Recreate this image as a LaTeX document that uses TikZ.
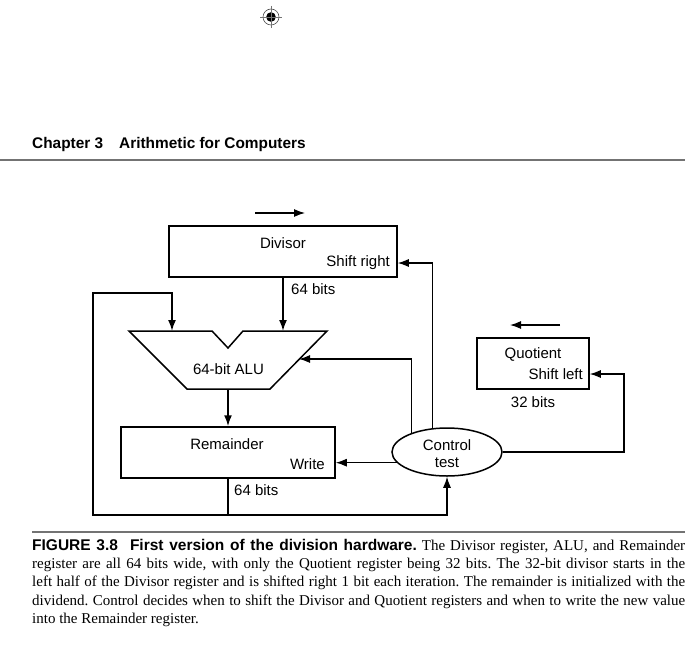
\documentclass[tikz,border=0pt]{standalone}
\usepackage{fontspec}
\setmainfont{Liberation Serif}
\setsansfont{Liberation Sans}
\usetikzlibrary{arrows.meta,shapes.geometric}
\begin{document}
\frenchspacing
\begin{tikzpicture}[x=1pt,y=-1pt,
  box/.style={draw, line width=1.5pt, inner sep=0pt},
  lbl/.style={font=\sffamily\fontsize{15}{18}\selectfont, inner sep=0pt},
  arr/.style={line width=1.7pt, -{Latex[length=11pt,width=8pt]}},
  carr/.style={line width=1.2pt, -{Latex[length=11pt,width=8pt]}},
  rule/.style={line width=1.4pt, black!55},
  head/.style={anchor=base west, inner sep=0pt, font=\sffamily\bfseries\fontsize{15.4}{18}\selectfont}
]
\useasboundingbox (0,0) rectangle (700,647);

% registration mark
\node[circle, draw=black!70, line width=0.6pt, minimum size=16pt, inner sep=0pt] (reg) at (271,17) {};
\fill (reg.center) circle (4.8pt);
\draw[line width=0.4pt, black!55] (260,17) -- (282,17) (271,6) -- (271,28);

% running head
\node[head] (chap) at (32,149) {Chapter 3};
\node[head] (chapt) at (119,149) {Arithmetic for Computers};
\draw[rule, line width=1.8pt] (0,160) -- (685,160);

% Divisor
\node[box, minimum width=228pt, minimum height=51pt] (div) at (283,251.5) {};
\node[lbl, anchor=base] (divt) at (283,248.3) {Divisor};
\node[lbl, anchor=base east] (divs) at (390,266.7) {Shift right};
\coordinate (divarA) at (255,213);
\coordinate (divarB) at (305,213);
\draw[carr] (divarA) -- (divarB);
\node[lbl, anchor=base west] (b64a) at (291,294.3) {64 bits};

% ALU
\draw[line width=1.5pt, line join=miter] (129,331) -- (212,331) -- (228,348) -- (243,331) -- (327,331) -- (270,389) -- (187,389) -- cycle;
\node[lbl, anchor=base] (alu) at (228.5,374) {64-bit ALU};
\coordinate (aluinL) at (172,331);
\coordinate (aluinR) at (283,331);
\coordinate (aluinC) at (299,359);
\coordinate (aluout) at (228,389);

% Remainder
\node[box, minimum width=214pt, minimum height=51pt] (rem) at (228,452.5) {};
\node[lbl, anchor=base] (remt) at (227,449.3) {Remainder};
\node[lbl, anchor=base east] (remw) at (325,469) {Write};
\node[lbl, anchor=base west] (b64b) at (234,495.7) {64 bits};

% Quotient
\node[box, minimum width=112pt, minimum height=51pt] (quo) at (533,363.5) {};
\node[lbl, anchor=base] (quot) at (533,358) {Quotient};
\node[lbl, anchor=base east] (quos) at (583,379) {Shift left};
\node[lbl, anchor=base] (b32) at (533,407) {32 bits};
\coordinate (quoarA) at (560,325);
\coordinate (quoarB) at (510,325);
\draw[carr] (quoarA) -- (quoarB);

% Control
\node[draw, ellipse, line width=1.5pt, minimum width=110pt, minimum height=48pt, inner sep=0pt] (ctl) at (447,452) {};
\node[lbl, anchor=base] (ctl1) at (447,450) {Control};
\node[lbl, anchor=base] (ctl2) at (447,467.7) {test};

% data paths
\coordinate (j) at (228,515);
\coordinate (lbl1) at (93,515);
\coordinate (ltl) at (93,293);
\coordinate (ltr) at (172,293);
\draw[arr] (div.south) -- (aluinR);
\draw[arr] (aluout) -- (rem.north);
\draw[arr] (rem.south) -- (j) -- (lbl1) -- (ltl) -- (ltr) -- (aluinL);
\draw[carr] (j) -| (ctl.south);

% control paths
\coordinate (ysr) at (0,263);
\coordinate (ysl) at (624,374);
\draw[carr] (ctl.121) |- (div.east |- ysr);
\draw[carr] (ctl.152) |- (aluinC);
\draw[carr] (ctl.192) -- (ctl.192 -| rem.east);
\draw[carr] (ctl.east) -| (ysl) -- (quo.east |- ysl);

% caption
\draw[rule, line width=1.2pt] (32,532) -- (685,532);
\node[anchor=north west, text width=653pt, align=justify, inner sep=0pt,
      font=\fontsize{15}{18.2}\selectfont] (cap) at (32,539) {\noindent
{\sffamily\bfseries\fontsize{15.5}{18.2}\selectfont FIGURE 3.8\hspace{12pt}First version of the division hardware.} The Divisor register, ALU, and Remainder\linebreak
register are all 64 bits wide, with only the Quotient register being 32 bits. The 32-bit divisor starts in the\linebreak
left half of the Divisor register and is shifted right 1 bit each iteration. The remainder is initialized with the\linebreak
dividend. Control decides when to shift the Divisor and Quotient registers and when to write the new value\linebreak
into the Remainder register.};
\end{tikzpicture}
\end{document}
